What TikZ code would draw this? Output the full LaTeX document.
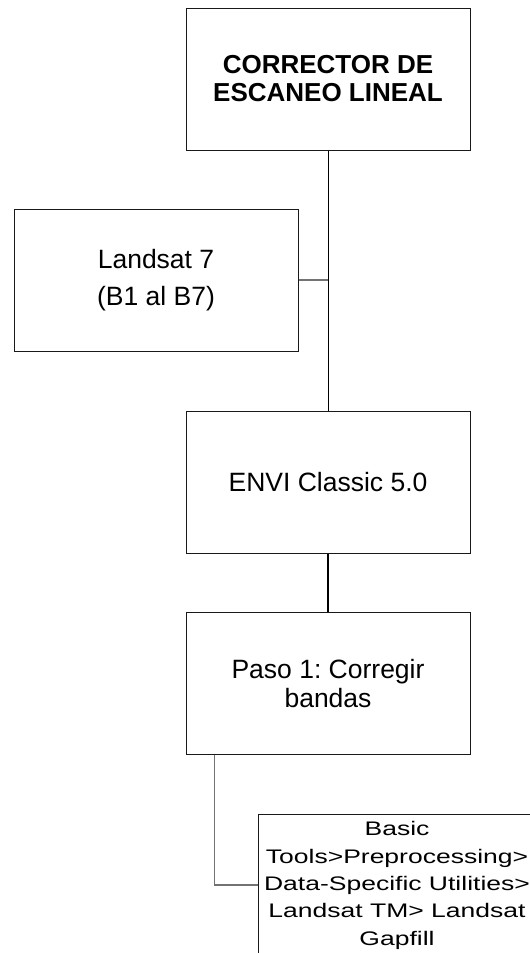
\documentclass[tikz,border=0pt]{standalone}
\usepackage{fontspec}
\setmainfont{Liberation Sans}
\usepackage{graphicx}
\frenchspacing
\begin{document}
\begin{tikzpicture}[x=1pt,y=-1pt,
    box/.style={draw=black!90,line width=1pt,inner sep=0pt,minimum width=284pt,minimum height=142pt,align=center},
    link/.style={draw=black,line width=1pt},
    greylink/.style={draw=black!55,line width=1.4pt}]
\useasboundingbox (0,0) rectangle (530,953);

\node[box,font=\fontsize{26}{28}\selectfont\bfseries] (top) at (328,79) {CORRECTOR DE\\ESCANEO LINEAL};
\node[box,font=\fontsize{26.5}{37}\selectfont] (landsat) at (156,280) {Landsat 7\\(B1 al B7)};
\node[box,font=\fontsize{26.5}{30}\selectfont] (envi) at (328,482) {ENVI Classic 5.0};
\node[box,font=\fontsize{26.5}{29}\selectfont] (paso) at (328,683.5) {Paso 1: Corregir\\bandas};
\node[box,minimum width=278pt] (gap) at (397,885) {\scalebox{1}[0.74]{\fontsize{26.5}{37}\selectfont
    \begin{tabular}{@{}c@{}}Basic\\Tools>Preprocessing>\\Data-Specific Utilities>\\Landsat TM> Landsat\\Gapfill\end{tabular}}};

\draw[link] (top.south) -- (envi.north);
\draw[greylink] (landsat.east) -- (landsat.east -| envi.north);
\draw[link,line width=2pt] (envi.south) -- (paso.north);
\draw[greylink] (paso.south west) ++(29,0) |- (gap.west);
\end{tikzpicture}
\end{document}
